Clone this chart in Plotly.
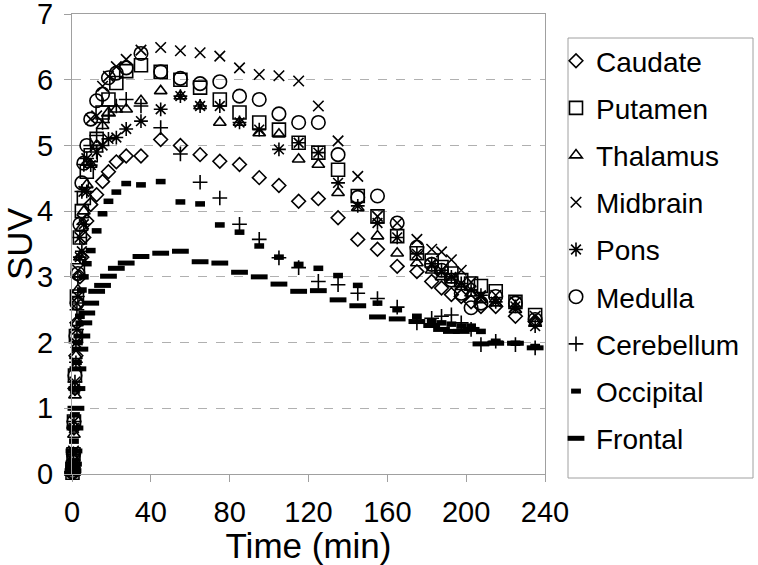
import plotly.graph_objects as go

# Time points (min)
time_min = [0.25, 0.5, 0.75, 1.0, 1.5, 2.0, 2.5, 3.0, 4.0, 5.0, 6.0, 7.5, 9.5, 12.5, 15.5, 18.5, 22.5, 27.5,
            35, 45, 55, 65, 75, 85, 95, 105, 115, 125, 135, 145, 155, 165, 175,
            182.5, 187.5, 192.5, 197.5, 202.5, 207.5, 215, 225, 235]

caudate = [0.02, 0.1, 0.3, 0.7, 1.3, 1.8, 2.3, 2.6, 3.0, 3.3, 3.6, 3.85, 4.1, 4.25, 4.45, 4.6, 4.75, 4.84,
           4.84, 5.09, 5.0, 4.86, 4.76, 4.71, 4.51, 4.39, 4.15, 4.19, 3.90, 3.57, 3.42, 3.16, 3.08,
           2.93, 2.83, 2.73, 2.70, 2.62, 2.55, 2.55, 2.40, 2.32]
putamen = [0.02, 0.1, 0.3, 0.8, 1.5, 2.1, 2.7, 3.1, 3.6, 4.0, 4.2, 4.6, 4.85, 5.1, 5.5, 5.7, 5.95, 6.13,
           6.22, 6.12, 6.0, 5.88, 5.70, 5.50, 5.35, 5.24, 5.04, 4.89, 4.63, 4.23, 3.92, 3.62, 3.36,
           3.25, 3.15, 3.05, 2.95, 2.90, 2.86, 2.78, 2.62, 2.42]
thalamus = [0.02, 0.08, 0.25, 0.6, 1.2, 1.8, 2.3, 2.8, 3.3, 3.75, 4.0, 4.4, 4.71, 5.0, 5.3, 5.5, 5.55, 5.55,
            5.68, 5.83, 5.75, 5.60, 5.35, 5.35, 5.19, 5.17, 4.79, 4.71, 4.28, 4.05, 3.62, 3.36, 3.21,
            3.10, 3.00, 2.95, 2.85, 2.75, 2.65, 2.60, 2.50, 2.30]
midbrain = [0.05, 0.15, 0.35, 0.8, 1.4, 2.0, 2.6, 3.1, 3.6, 3.87, 4.3, 4.8, 5.4, 5.45, 5.9, 6.05, 6.2, 6.31,
            6.45, 6.49, 6.44, 6.41, 6.36, 6.18, 6.08, 6.06, 5.98, 5.60, 5.07, 4.53, 3.92, 3.82, 3.57,
            3.42, 3.38, 3.26, 3.10, 2.92, 2.70, 2.72, 2.62, 2.40]
pons = [0.03, 0.12, 0.3, 0.7, 1.3, 1.7, 2.2, 2.7, 3.3, 3.39, 3.8, 4.3, 4.7, 4.9, 5.0, 5.1, 5.12, 5.25,
        5.37, 5.55, 5.75, 5.60, 5.60, 5.35, 5.24, 4.94, 5.04, 4.89, 4.43, 4.08, 3.82, 3.60, 3.35,
        3.20, 3.10, 3.00, 2.90, 2.80, 2.72, 2.62, 2.55, 2.25]
medulla = [0.03, 0.1, 0.3, 0.8, 1.5, 2.1, 2.6, 3.05, 3.8, 4.43, 4.73, 5.0, 5.4, 5.68, 5.78, 6.03, 6.1, 6.18,
           6.40, 6.12, 6.02, 5.94, 5.97, 5.75, 5.70, 5.48, 5.35, 5.35, 4.86, 4.21, 4.23, 3.82, 3.45,
           3.19, 3.10, 2.95, 2.75, 2.53, 2.60, 2.70, 2.60, 2.35]
cerebellum = [0.02, 0.1, 0.3, 0.8, 1.4, 2.0, 2.5, 3.0, 3.6, 4.3, 4.71, 4.8, 5.0, 5.15, 5.35, 5.45, 5.6, 5.70,
              5.60, 5.27, 4.87, 4.44, 4.20, 3.80, 3.57, 3.29, 3.14, 2.93, 2.88, 2.75, 2.67, 2.54, 2.30,
              2.37, 2.40, 2.42, 2.30, 2.20, 1.97, 2.02, 1.97, 1.92]
occipital = [0.02, 0.08, 0.2, 0.5, 0.9, 1.3, 1.7, 2.0, 2.4, 2.8, 3.0, 3.2, 3.4, 3.7, 3.96, 4.15, 4.29, 4.42,
             4.40, 4.45, 4.14, 4.11, 3.79, 3.68, 3.47, 3.30, 3.19, 3.13, 3.02, 2.87, 2.60, 2.50, 2.40,
             2.33, 2.30, 2.28, 2.25, 2.25, 2.17, 2.02, 1.99, 1.94]
frontal = [0.01, 0.05, 0.15, 0.35, 0.7, 1.0, 1.3, 1.6, 1.9, 2.1, 2.3, 2.45, 2.6, 2.78, 2.87, 3.01, 3.13, 3.21,
           3.31, 3.36, 3.39, 3.23, 3.21, 3.07, 3.00, 2.89, 2.78, 2.79, 2.65, 2.56, 2.39, 2.36, 2.32,
           2.26, 2.20, 2.17, 2.17, 2.20, 1.98, 1.99, 1.99, 1.92]

x_ticks = [0, 40, 80, 120, 160, 200, 240]
y_ticks = [0, 1, 2, 3, 4, 5, 6, 7]

series_names = ["Caudate", "Putamen", "Thalamus", "Midbrain", "Pons", "Medulla",
                "Cerebellum", "Occipital", "Frontal"]
series_values = [caudate, putamen, thalamus, midbrain, pons, medulla, cerebellum, occipital, frontal]

styles = [
    dict(symbol="diamond-open", size=10.5, line=dict(width=1.6, color="black")),
    dict(symbol="square-open", size=13, line=dict(width=1.6, color="black")),
    dict(symbol="triangle-up-open", size=11, line=dict(width=1.6, color="black")),
    dict(symbol="x-thin-open", size=10.5, line=dict(width=1.6, color="black")),
    dict(symbol="asterisk-open", size=11.5, line=dict(width=1.6, color="black")),
    dict(symbol="circle-open", size=13.5, line=dict(width=1.6, color="black")),
    dict(symbol="cross-thin-open", size=10.5, line=dict(width=1.6, color="black")),
    dict(symbol="line-ew-open", size=7, line=dict(width=5.5, color="black")),
    dict(symbol="line-ew-open", size=12, line=dict(width=5, color="black")),
]

FONT = "Liberation Sans, Arial, sans-serif"
FS = 29
LEG_FS = 28

# plot area in pixels
W, H = 758, 565
L, R, T, B = 72, 545, 14, 474
PW, PH = R - L, B - T


def px_x(p):
    return (p - L) / PW


def px_y(p):
    return (B - p) / PH


fig = go.Figure()
for i, (name, vals, st) in enumerate(zip(series_names, series_values, styles)):
    fig.add_trace(go.Scatter(
        x=time_min, y=vals, mode="markers", name=name,
        marker=dict(color="black", **st),
        cliponaxis=False, legendgroup=f"g{i}",
    ))

fig.update_layout(
    width=W, height=H,
    margin=dict(l=L, r=W - R, t=T, b=H - B),
    paper_bgcolor="white", plot_bgcolor="white",
    font=dict(family=FONT, size=FS, color="black"),
    showlegend=True,
    legend=dict(
        x=px_x(556), xanchor="left",
        y=px_y(36), yanchor="top",
        borderwidth=0,
        font=dict(family=FONT, size=LEG_FS, color="black"),
        tracegroupgap=7.8, bgcolor="rgba(0,0,0,0)",
    ),
    shapes=[dict(
        type="rect", xref="paper", yref="paper", layer="below",
        x0=px_x(568), x1=px_x(753), y0=px_y(478), y1=px_y(38),
        line=dict(color="#a0a0a0", width=1), fillcolor="white",
    )],
)

fig.update_xaxes(
    range=[0, 240], tickmode="array", tickvals=x_ticks,
    showline=True, linecolor="#a0a0a0", linewidth=1, mirror=True,
    ticks="outside", ticklen=7, tickcolor="#a0a0a0",
    showgrid=False, zeroline=False, automargin=False,
    ticklabelstandoff=5, ticklabeloverflow="allow",
    title=dict(text="Time (min)", standoff=2),
)
fig.update_yaxes(
    range=[0, 7], tickmode="array", tickvals=y_ticks,
    showline=True, linecolor="#a0a0a0", linewidth=1, mirror=True,
    ticks="outside", ticklen=7, tickcolor="#a0a0a0",
    showgrid=True, gridcolor="#b0b0b0", griddash="dash", gridwidth=1,
    zeroline=False, automargin=False, ticklabeloverflow="allow",
    ticklabelstandoff=5,
    title=dict(text="SUV", standoff=4),
)

# remove the default 8px page margin so the figure sits at the window's top-left corner
fig.write_html("out.html", config={"displayModeBar": False},
               post_script="document.body.style.margin='0';")
